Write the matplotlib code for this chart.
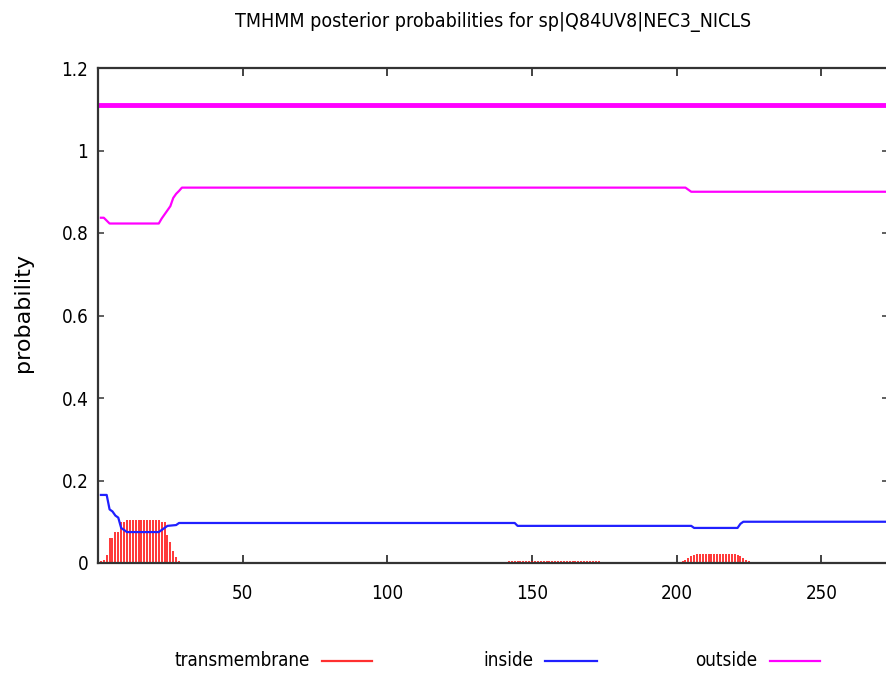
import matplotlib
matplotlib.use("Agg")
import matplotlib.pyplot as plt
from matplotlib.lines import Line2D

plt.rcParams['font.family'] = ['DejaVu Sans']
plt.rcParams['font.stretch'] = 'condensed'

title = "TMHMM posterior probabilities for sp|Q84UV8|NEC3_NICLS"
seq_len = 273

# transmembrane posterior (impulses), only the non-zero positions
tm_pos = list(range(1, 30)) + list(range(142, 174)) + list(range(202, 226))
tm_prob = [0.005, 0.008, 0.02, 0.06, 0.06, 0.075, 0.075, 0.1, 0.1, 0.105,
           0.105, 0.105, 0.105, 0.105, 0.105, 0.105, 0.105, 0.105, 0.105, 0.105,
           0.105, 0.1, 0.1, 0.068, 0.05, 0.03, 0.015, 0.005, 0.002] + \
          [0.006] * 32 + \
          [0.005, 0.008, 0.012, 0.016, 0.02, 0.022, 0.022, 0.022, 0.022, 0.022,
           0.022, 0.022, 0.022, 0.022, 0.022, 0.022, 0.022, 0.022, 0.022, 0.02,
           0.016, 0.012, 0.007, 0.005]

# inside posterior (breakpoints of a step-like curve)
inside_x = [1, 3, 4, 5, 6, 7, 8, 9, 10, 21, 22, 23, 24, 27, 28, 144, 145, 205, 206, 221, 222, 223, 273]
inside_y = [0.165, 0.165, 0.13, 0.125, 0.115, 0.11, 0.085, 0.08, 0.075, 0.075, 0.08, 0.085, 0.09,
            0.092, 0.097, 0.097, 0.09, 0.09, 0.085, 0.085, 0.095, 0.1, 0.1]

# outside posterior
outside_x = [1, 2, 3, 4, 21, 22, 23, 24, 25, 26, 27, 28, 29, 203, 204, 205, 273]
outside_y = [0.837, 0.837, 0.83, 0.823, 0.823, 0.835, 0.845, 0.855, 0.865, 0.885, 0.895,
             0.902, 0.91, 0.91, 0.905, 0.90, 0.90]

# predicted topology line (all outside)
topo_x = [0, 273]
topo_y = [1.11, 1.11]

fig = plt.figure(figsize=(8.86, 6.74), dpi=100)
ax = fig.add_axes([98 / 886, 111 / 674, 790 / 886, 495 / 674])

ax.vlines(tm_pos, 0, tm_prob, color='#ff0000', lw=1.1)
ax.plot(inside_x, inside_y, color='#2020ff', lw=1.6)
ax.plot(outside_x, outside_y, color='#ff00ff', lw=1.6)
ax.plot(topo_x, topo_y, color='#ff00ff', lw=3.5, solid_capstyle='butt')

ax.set_xlim(0, seq_len)
ax.set_ylim(0, 1.2)
ax.set_xticks([50, 100, 150, 200, 250])
ax.set_yticks([0, 0.2, 0.4, 0.6, 0.8, 1.0, 1.2])
ax.set_yticklabels(["0", "0.2", "0.4", "0.6", "0.8", "1", "1.2"])
ax.tick_params(axis='x', direction='in', length=6, width=1.2, top=True,
               labelsize=13.5, pad=15, color='#222222')
ax.tick_params(axis='y', direction='in', length=4, width=1.2, right=True,
               labelsize=13.5, pad=7, color='#444444')
for s in ax.spines.values():
    s.set_linewidth(1.6)
    s.set_color('#333333')

fig.text(23 / 886, 1 - 313 / 674, "probability", rotation=90, ha='center',
         va='center', fontsize=16, fontstretch='normal')
fig.text(493 / 886, 1 - 22 / 674, title, ha='center', va='center', fontsize=14)

# legend, gnuplot style: label then sample line
legend_items = [("transmembrane", '#ff3030', 310, 322, 372),
                ("inside", '#2020ff', 533, 545, 597),
                ("outside", '#ff00ff', 757, 770, 820)]
ly = 1 - 661 / 674
for name, col, tx, x0, x1 in legend_items:
    fig.text(tx / 886, ly, name, ha='right', va='center', fontsize=13.5)
    fig.add_artist(Line2D([x0 / 886, x1 / 886], [ly, ly], color=col, lw=1.6,
                          transform=fig.transFigure))

fig.savefig("out.png", dpi=100)
